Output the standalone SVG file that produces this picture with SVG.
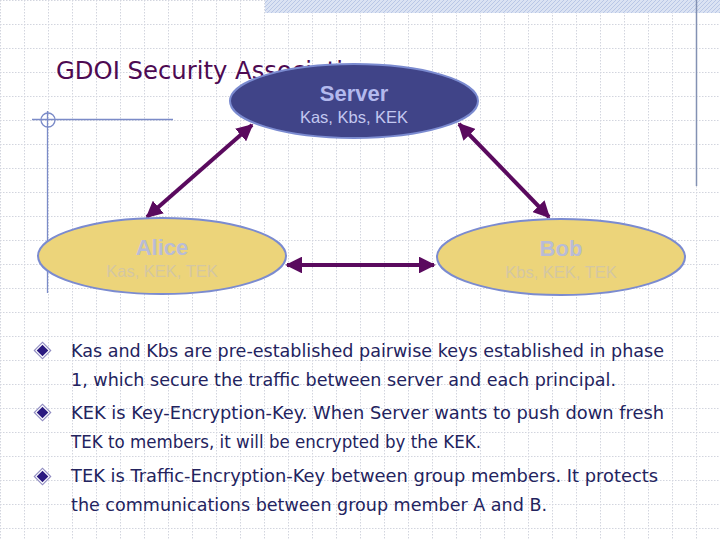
<svg xmlns="http://www.w3.org/2000/svg" width="720" height="540" viewBox="0 0 720 540">
<defs>
<pattern id="grid" width="24" height="24" patternUnits="userSpaceOnUse">
<path d="M0 0.5H24M0.5 0V24" fill="none" stroke="#d2d5de" stroke-width="1" stroke-dasharray="1.5 1.5"/>
</pattern>
<pattern id="hatch" width="4" height="4" patternUnits="userSpaceOnUse">
<rect width="4" height="4" fill="#dbe3f3"/>
<path d="M0 4L4 0" stroke="#b9c7e6" stroke-width="1"/>
</pattern>
<marker id="ah" viewBox="0 0 10 10" refX="9" refY="5" markerWidth="4.2" markerHeight="4.2" orient="auto-start-reverse" markerUnits="strokeWidth">
<path d="M0 0L10 5L0 10z" fill="#5a0a5e"/>
</marker>
<symbol id="diamond" viewBox="-9 -9 18 18">
<path d="M0 -8.5L8.5 0L0 8.5L-8.5 0z" fill="#8e8ac0"/>
<path d="M0 -7L7 0L0 7L-7 0z" fill="#ffffff"/>
<path d="M0 -5.5L5.5 0L0 5.5L-5.5 0z" fill="#2b1a80"/>
</symbol>
</defs>
<style>
.conn{stroke:#5a0a5e;stroke-width:4;fill:none;marker-start:url(#ah);marker-end:url(#ah)}
.body{font-family:Tahoma,"DejaVu Sans","Liberation Sans",sans-serif;font-size:18px;fill:#23235e}
.guide{stroke:#7b8bc8;stroke-width:1.3;fill:none}
.ellN{stroke:#7b8bd0;stroke-width:2}
.nm{font-family:"Liberation Sans",Arial,sans-serif;font-weight:bold;font-size:22px;text-anchor:middle}
.sub{font-family:"Liberation Sans",Arial,sans-serif;font-size:16.5px;text-anchor:middle}
</style>
<rect width="720" height="540" fill="#ffffff"/>
<rect width="720" height="540" fill="url(#grid)"/>
<rect x="265" y="0" width="455" height="13" fill="url(#hatch)"/>
<line x1="696.5" y1="0" x2="696.5" y2="186" stroke="#8391b3" stroke-width="1.5"/>
<line class="guide" x1="32" y1="119.5" x2="173" y2="119.5"/>
<line class="guide" x1="47.5" y1="111" x2="47.5" y2="293"/>
<circle class="guide" cx="48" cy="120" r="7"/>
<text x="56" y="79" font-family="Tahoma,'DejaVu Sans Condensed','DejaVu Sans',sans-serif" font-size="25" fill="#4d0a52" textLength="330" lengthAdjust="spacingAndGlyphs">GDOI Security Associations</text>
<g id="connectors">
<line class="conn" x1="252" y1="125" x2="147" y2="217"/>
<line class="conn" x1="459" y1="124" x2="549" y2="217"/>
<line class="conn" x1="287" y1="265" x2="434" y2="265"/>
</g>
<g id="server">
<ellipse class="ellN" cx="354" cy="101" rx="124" ry="37" fill="#404488"/>
<text class="nm" x="354" y="101" fill="#b3b9ee">Server</text>
<text class="sub" x="354" y="123" fill="#c3c8f0">Kas, Kbs, KEK</text>
</g>
<g id="alice">
<ellipse class="ellN" cx="162" cy="256" rx="124" ry="38" fill="#ecd47a"/>
<text class="nm" x="162" y="255" fill="#b9bcd6">Alice</text>
<text class="sub" x="162" y="277" fill="#d4c7a2">Kas, KEK, TEK</text>
</g>
<g id="bob">
<ellipse class="ellN" cx="561" cy="257" rx="124" ry="38" fill="#ecd47a"/>
<text class="nm" x="561" y="256" fill="#b9bcd6">Bob</text>
<text class="sub" x="561" y="278" fill="#d4c7a2">Kbs, KEK, TEK</text>
</g>
<g id="bullets">
<use href="#diamond" x="33" y="341" width="19" height="19"/>
<use href="#diamond" x="33" y="403" width="19" height="19"/>
<use href="#diamond" x="33" y="467" width="19" height="19"/>
<text class="body" x="71" y="357" textLength="593" lengthAdjust="spacingAndGlyphs">Kas and Kbs are pre-established pairwise keys established in phase</text>
<text class="body" x="71" y="386" textLength="545" lengthAdjust="spacingAndGlyphs">1, which secure the traffic between server and each principal.</text>
<text class="body" x="71" y="419" textLength="593" lengthAdjust="spacingAndGlyphs">KEK is Key-Encryption-Key. When Server wants to push down fresh</text>
<text class="body" x="71" y="448" textLength="410" lengthAdjust="spacingAndGlyphs">TEK to members, it will be encrypted by the KEK.</text>
<text class="body" x="71" y="482" textLength="587" lengthAdjust="spacingAndGlyphs">TEK is Traffic-Encryption-Key between group members. It protects</text>
<text class="body" x="71" y="511" textLength="476" lengthAdjust="spacingAndGlyphs">the communications between group member A and B.</text>
</g>
</svg>
